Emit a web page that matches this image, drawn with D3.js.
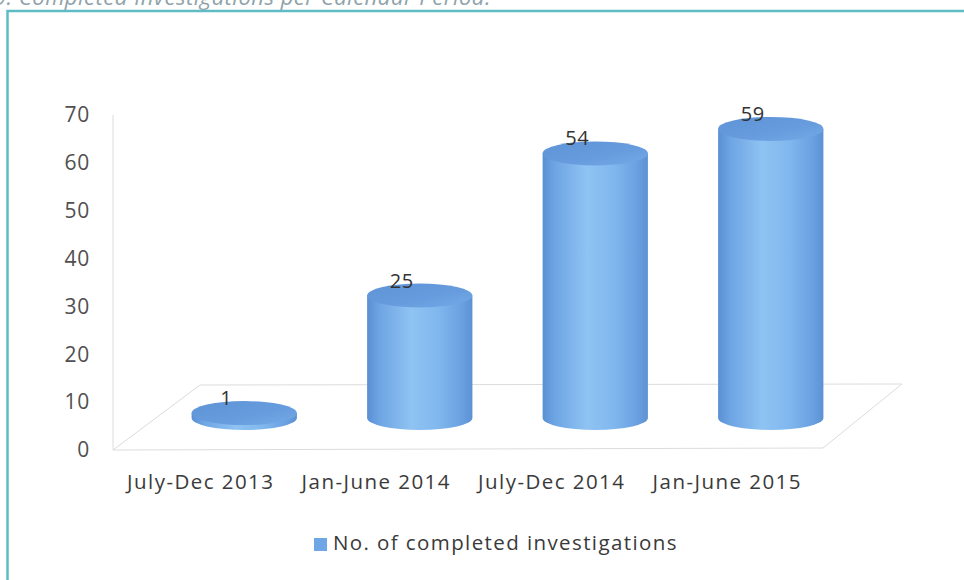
<!DOCTYPE html>
<html>
<head>
<meta charset="utf-8">
<script src="https://cdn.jsdelivr.net/npm/d3@7"></script>
<style>
  html, body { margin: 0; padding: 0; background: #ffffff; }
  svg { display: block; font-family: "Open Sans", sans-serif; }
</style>
</head>
<body>
<svg id="chart" width="964" height="580"></svg>
<script>
// ---- data ----
const categories = ["July-Dec 2013", "Jan-June 2014", "July-Dec 2014", "Jan-June 2015"];
const values = [1, 25, 54, 59];
const yTicks = [0, 10, 20, 30, 40, 50, 60, 70];
const seriesName = "No. of completed investigations";
const titleText = "9. Completed Investigations per Calendar Period:";

// ---- layout ----
const svg = d3.select("#chart");
const W = 964, H = 580;
const left = 113, right = 815, floorRight = 823;
const front0 = 450, top70 = 115;
const depthX = 87, depthY = 65;

const x = d3.scaleBand().domain(categories).range([left, right]).paddingInner(0).paddingOuter(0);
const y = d3.scaleLinear().domain([0, 70]).range([front0, top70]);
// bars sit at mid depth of the 3D floor
const yBar = d3.scaleLinear().domain([0, 70]).range([front0 - depthY / 2 + 0.5, front0 - depthY / 2 + 0.5 - 70 * 4.9]);

// defs
const defs = svg.append("defs");
const g1 = defs.append("linearGradient").attr("id", "cyl").attr("x1", "0").attr("x2", "1").attr("y1", "0").attr("y2", "0");
[["0%", "#5a90d3"], ["12%", "#6ea5e4"], ["42%", "#8ec3f2"], ["68%", "#80b7ee"], ["90%", "#6aa0e0"], ["100%", "#5c91d3"]]
  .forEach(([o, c]) => g1.append("stop").attr("offset", o).attr("stop-color", c));
const g2 = defs.append("linearGradient").attr("id", "cyltop").attr("x1", "0").attr("x2", "1").attr("y1", "0").attr("y2", "1");
[["0%", "#5e94d5"], ["60%", "#679dde"], ["100%", "#74aae5"]]
  .forEach(([o, c]) => g2.append("stop").attr("offset", o).attr("stop-color", c));

// frame
svg.append("rect").attr("x", 7.5).attr("y", 11).attr("width", W + 10).attr("height", H + 10)
  .attr("fill", "none").attr("stroke", "#5fbcc5").attr("stroke-width", 2.5);

// title (clipped at top, as in the source)
svg.append("text").attr("x", -6).attr("y", 5)
  .attr("font-size", 22).attr("font-style", "italic").attr("fill", "#8fa3aa")
  .attr("letter-spacing", 0.5).text(titleText);

// 3D walls / floor lines
const grid = svg.append("g").attr("stroke", "#dcdcdc").attr("stroke-width", 1).attr("fill", "none");
grid.append("line").attr("x1", left).attr("x2", left).attr("y1", y(70)).attr("y2", y(0));
grid.append("path").attr("d",
  `M${left},${y(0)} L${left + depthX},${y(0) - depthY} L${floorRight + depthX - 8},${y(0) - depthY - 1} L${floorRight},${y(0) - 2} Z`);

// y axis
const yAxis = svg.append("g").attr("transform", `translate(${left},0)`)
  .call(d3.axisLeft(y).tickValues(yTicks).tickSize(0).tickPadding(23));
yAxis.select(".domain").remove();
yAxis.selectAll("text").attr("font-size", 21).attr("fill", "#505050")
  .attr("font-family", "Open Sans").attr("letter-spacing", 0.8);

// x axis
const xAxis = svg.append("g").attr("transform", `translate(0,${y(0)})`)
  .call(d3.axisBottom(x).tickSize(0).tickPadding(24));
xAxis.select(".domain").remove();
xAxis.selectAll("text").attr("font-size", 20.5).attr("fill", "#3a3a3a")
  .attr("font-family", "Open Sans").attr("letter-spacing", 1.45);

// cylinders
const rx = x.bandwidth() * 0.3, ry = 12;
const bars = svg.append("g");
categories.forEach((c, i) => {
  const cx = x(c) + x.bandwidth() / 2 + depthX / 2;
  const yb = yBar(0), yt = yBar(values[i]);
  bars.append("path")
    .attr("d", `M${cx - rx},${yt} L${cx - rx},${yb} A${rx},${ry} 0 0 0 ${cx + rx},${yb} L${cx + rx},${yt} Z`)
    .attr("fill", "url(#cyl)");
  bars.append("ellipse").attr("cx", cx).attr("cy", yt).attr("rx", rx).attr("ry", ry)
    .attr("fill", "url(#cyltop)");
  bars.append("text").attr("x", cx - 18).attr("y", yt - 8)
    .attr("text-anchor", "middle").attr("font-size", 20).attr("fill", "#333")
    .attr("letter-spacing", 0.5).text(values[i]);
});

// legend
const lg = svg.append("g").attr("transform", "translate(314,538)");
lg.append("rect").attr("width", 13).attr("height", 13).attr("fill", "#6fa7e6");
lg.append("text").attr("x", 19).attr("y", 12).attr("font-size", 20.5).attr("fill", "#3a3a3a")
  .attr("letter-spacing", 1.4).text(seriesName);
</script>
</body>
</html>
